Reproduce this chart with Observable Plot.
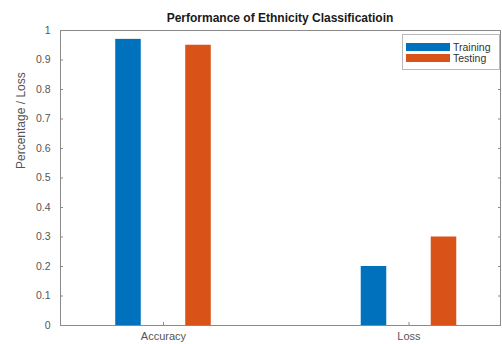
<!DOCTYPE html>
<html>
<head>
<meta charset="utf-8">
<script src="https://cdn.jsdelivr.net/npm/d3@7"></script>
<script src="https://cdn.jsdelivr.net/npm/@observablehq/plot@0.6"></script>
<style>
  html, body { margin: 0; padding: 0; background: #fff; }
  body { font-family: "Liberation Sans", Arial, Helvetica, sans-serif; }
  #wrap { position: relative; width: 502px; height: 344px; overflow: hidden; }
  #title { height: 16px; line-height: 16px; font-size: 12px; font-weight: bold; color: #1a1a1a;
           text-align: center; padding-left: 58px; transform: translateY(10px); white-space: nowrap; }
  #legend { position: absolute; left: 402px; top: 34px; width: 96px; height: 34px;
            border: 1px solid #b8b8b8; background: #fff; font-size: 10.5px; color: #333; }
  .row { position: absolute; left: 3px; height: 10px; display: flex; align-items: center; }
  .sw { width: 44px; height: 8px; margin-right: 3px; }
</style>
</head>
<body>
<div id="wrap">
  <div id="title">Performance of Ethnicity Classificatioin</div>
  <div id="chart"></div>
  <div id="legend"></div>
</div>
<script>
const categories = ["Accuracy", "Loss"];
const seriesNames = ["Training", "Testing"];
const training = [0.97, 0.20];
const testing = [0.95, 0.30];
const yTicks = [0, 0.1, 0.2, 0.3, 0.4, 0.5, 0.6, 0.7, 0.8, 0.9, 1];
const yLabel = "Percentage / Loss";
const colors = ["#0072BD", "#D95319"];

const values = {Training: training, Testing: testing};
const rows = [];
categories.forEach((c, i) => {
  seriesNames.forEach((s) => rows.push({category: c, index: i + 1, series: s, value: values[s][i]}));
});

// grouped-bar layout (in category units), MATLAB-style
const offset = {Training: -0.1426, Testing: 0.1426};
const halfW = 0.052;

const chart = Plot.plot({
  width: 502,
  height: 328,
  marginLeft: 60,
  marginRight: 2,
  marginTop: 14,
  marginBottom: 19,
  style: {fontFamily: '"Liberation Sans", Arial, sans-serif', background: "#fff", overflow: "visible"},
  x: {domain: [0.5805, 2.3727]},
  y: {domain: [0, 1]},
  color: {domain: seriesNames, range: colors},
  marks: [
    Plot.rectY(rows, {
      x1: d => d.index + offset[d.series] - halfW,
      x2: d => d.index + offset[d.series] + halfW,
      y: "value",
      fill: "series"
    }),
    Plot.frame({stroke: "#8a8a8a"}),
    Plot.axisY({
      ticks: yTicks,
      tickFormat: d => String(+d.toFixed(1)),
      tickSize: -3,
      tickPadding: 13,
      fontSize: 10.5,
      color: "#555",
      stroke: "#8a8a8a",
      label: null
    }),
    Plot.text([yLabel], {
      frameAnchor: "left",
      rotate: -90,
      dx: -39,
      dy: -9,
      fontSize: 12,
      fill: "#555"
    }),
    Plot.axisY({anchor: "right", ticks: yTicks, tickSize: -3, tickFormat: () => "", label: null, stroke: "#8a8a8a"}),
    Plot.axisX({
      ticks: [1, 2],
      tickFormat: i => categories[i - 1],
      tickSize: -3,
      tickPadding: 10,
      fontSize: 11,
      color: "#555",
      stroke: "#8a8a8a",
      label: null
    })
  ]
});
document.getElementById("chart").appendChild(chart);

const legend = document.getElementById("legend");
seriesNames.forEach((s, i) => {
  const r = document.createElement("div");
  r.className = "row";
  r.style.top = (7 + i * 11) + "px";
  const sw = document.createElement("div");
  sw.className = "sw";
  sw.style.background = colors[i];
  const t = document.createElement("span");
  t.textContent = s;
  r.appendChild(sw);
  r.appendChild(t);
  legend.appendChild(r);
});
</script>
</body>
</html>
